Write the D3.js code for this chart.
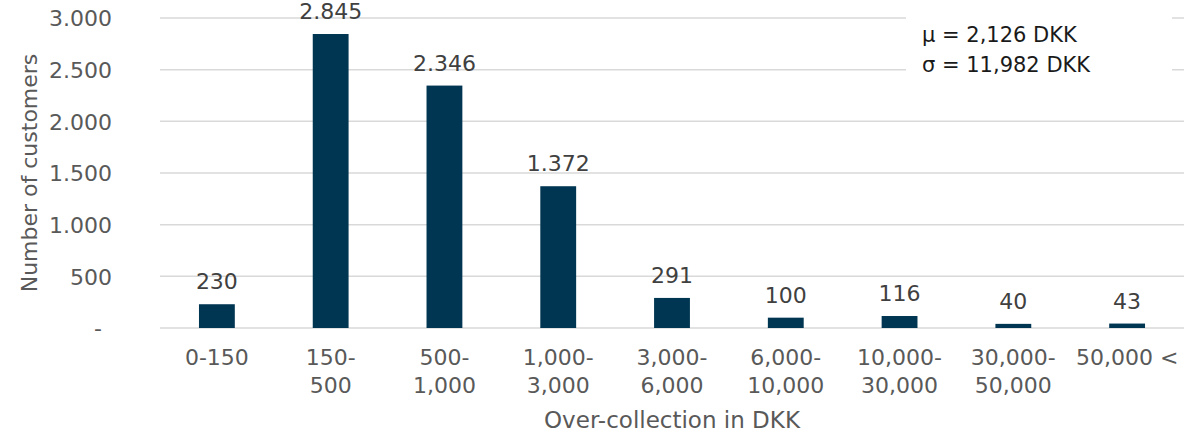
<!DOCTYPE html>
<html>
<head>
<meta charset="utf-8">
<script src="https://cdn.jsdelivr.net/npm/d3@7"></script>
<style>
  html, body { margin: 0; padding: 0; background: #fff; }
  svg { display: block; font-family: "DejaVu Sans", sans-serif; }
</style>
</head>
<body>
<svg id="chart" width="1198" height="432"></svg>
<script>
const categories = ["0-150", "150-500", "500-1,000", "1,000-3,000", "3,000-6,000", "6,000-10,000", "10,000-30,000", "30,000-50,000", "50,000 <"];
const categoryLines = [["0-150"], ["150-", "500"], ["500-", "1,000"], ["1,000-", "3,000"], ["3,000-", "6,000"], ["6,000-", "10,000"], ["10,000-", "30,000"], ["30,000-", "50,000"], ["50,000 <"]];
const customers = [230, 2845, 2346, 1372, 291, 100, 116, 40, 43];
const valueLabels = ["230", "2.845", "2.346", "1.372", "291", "100", "116", "40", "43"];
const yTicks = [0, 500, 1000, 1500, 2000, 2500, 3000];
const yTickLabels = ["-", "500", "1.000", "1.500", "2.000", "2.500", "3.000"];
const legendLines = ["\u03BC = 2,126 DKK", "\u03C3 = 11,982 DKK"];
const xTitle = "Over-collection in DKK";
const yTitle = "Number of customers";

(function () {
const svg = d3.select("#chart");
const mLeft = 160, mRight = 1184, mTop = 18, mBottom = 328;
const textGray = "#595959";
const barColor = "#003652";
const fs = 22;

const x = d3.scaleBand().domain(categories).range([mLeft, mRight]).paddingInner(0.685).paddingOuter(0.3425);
const y = d3.scaleLinear().domain([0, 3000]).range([mBottom, mTop]);

svg.append("g").selectAll("line").data(yTicks).join("line")
  .attr("x1", mLeft).attr("x2", mRight)
  .attr("y1", d => y(d)).attr("y2", d => y(d))
  .attr("stroke", "#d9d9d9").attr("stroke-width", 1.5);

const yAxis = d3.axisLeft(y).tickValues(yTicks).tickSize(0).tickPadding(0)
  .tickFormat((d, i) => yTickLabels[i]);
const gy = svg.append("g").attr("transform", "translate(112,0)").call(yAxis);
gy.select(".domain").remove();
gy.selectAll("text")
  .attr("font-family", "DejaVu Sans").attr("font-size", fs).attr("fill", textGray)
  .attr("dy", "0.36em")
  .attr("dx", d => d === 0 ? -10 : 0);

svg.append("g").selectAll("rect").data(customers).join("rect")
  .attr("x", (d, i) => x(categories[i]))
  .attr("width", x.bandwidth())
  .attr("y", d => y(d))
  .attr("height", d => y(0) - y(d))
  .attr("fill", barColor);

svg.append("g").selectAll("text").data(customers).join("text")
  .attr("x", (d, i) => x(categories[i]) + x.bandwidth() / 2)
  .attr("y", d => y(d) - 15)
  .attr("text-anchor", "middle")
  .attr("font-size", fs).attr("fill", "#404040")
  .text((d, i) => valueLabels[i]);

const xg = svg.append("g");
categories.forEach((c, i) => {
  const cx = x(c) + x.bandwidth() / 2;
  const t = xg.append("text")
    .attr("x", cx).attr("y", 365)
    .attr("text-anchor", "middle")
    .attr("font-size", fs).attr("fill", textGray);
  categoryLines[i].forEach((line, j) => {
    t.append("tspan").attr("x", cx).attr("y", 365 + j * 28).text(line);
  });
});

svg.append("text")
  .attr("x", (mLeft + mRight) / 2).attr("y", 428)
  .attr("text-anchor", "middle").attr("font-size", 23).attr("fill", textGray)
  .text(xTitle);
svg.append("text")
  .attr("transform", `translate(37,${(mTop + mBottom) / 2}) rotate(-90)`)
  .attr("text-anchor", "middle").attr("font-size", fs).attr("fill", textGray)
  .text(yTitle);

svg.append("rect").attr("x", 906).attr("y", 8).attr("width", 266).attr("height", 72).attr("fill", "#fff");
svg.append("g").selectAll("text").data(legendLines).join("text")
  .attr("x", 922).attr("y", (d, i) => 42 + i * 30)
  .attr("font-size", 21).attr("fill", "#1a1a1a")
  .text(d => d);
})();
</script>
</body>
</html>
